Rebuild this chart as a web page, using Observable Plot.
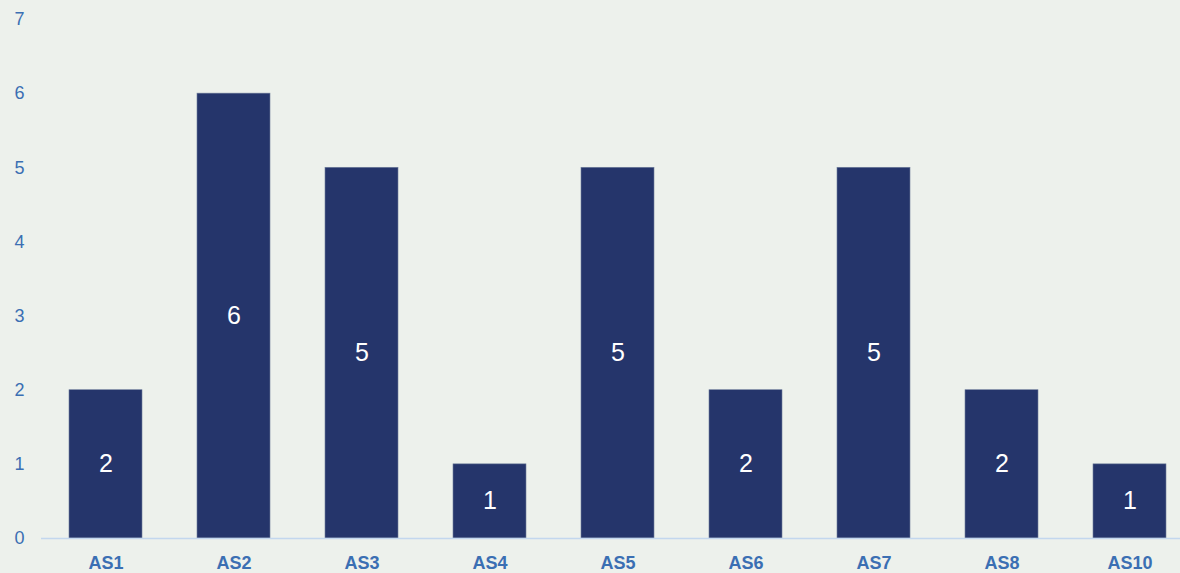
<!DOCTYPE html>
<html>
<head>
<meta charset="utf-8">
<script src="https://cdn.jsdelivr.net/npm/d3@7"></script>
<script src="https://cdn.jsdelivr.net/npm/@observablehq/plot@0.6"></script>
<style>
  html, body { margin: 0; padding: 0; background: #edf1ec; }
  #chart svg { display: block; }
</style>
</head>
<body>
<div id="chart"></div>
<script>
const categories = ["AS1", "AS2", "AS3", "AS4", "AS5", "AS6", "AS7", "AS8", "AS10"];
const counts = [2, 6, 5, 1, 5, 2, 5, 2, 1];
const yTicks = [0, 1, 2, 3, 4, 5, 6, 7];

const data = categories.map((c, i) => ({category: c, count: counts[i]}));

const chart = Plot.plot({
  width: 1180,
  height: 573,
  marginTop: 19,
  marginBottom: 35,
  marginLeft: 41,
  marginRight: 0,
  style: {background: "#edf1ec", fontFamily: "'Liberation Sans', Arial, sans-serif", fontSize: "18px"},
  x: {domain: categories, range: [39.5, 1194.5], paddingInner: 0.43, paddingOuter: 0.215, align: 0.5},
  y: {domain: [0, 7], ticks: yTicks, tickFormat: "d"},
  marks: [
    Plot.barY(data, {x: "category", y: "count", fill: "#25356b", stroke: "#6f7d9c", strokeWidth: 0.6}),
    Plot.ruleY([0], {stroke: "#c3d7ee", strokeWidth: 1.5}),
    Plot.text(data, {x: "category", y: d => d.count / 2, text: d => String(d.count), fill: "white", fontSize: 25}),
    Plot.axisY({ticks: yTicks, tickFormat: "d", tickSize: 0, tickPadding: 17, fontSize: 18, color: "#3b6fb3", label: null}),
    Plot.axisX({tickSize: 0, tickPadding: 18, fontSize: 18, fontWeight: "bold", color: "#3b6fb3", label: null})
  ]
});
document.getElementById("chart").appendChild(chart);
</script>
</body>
</html>
